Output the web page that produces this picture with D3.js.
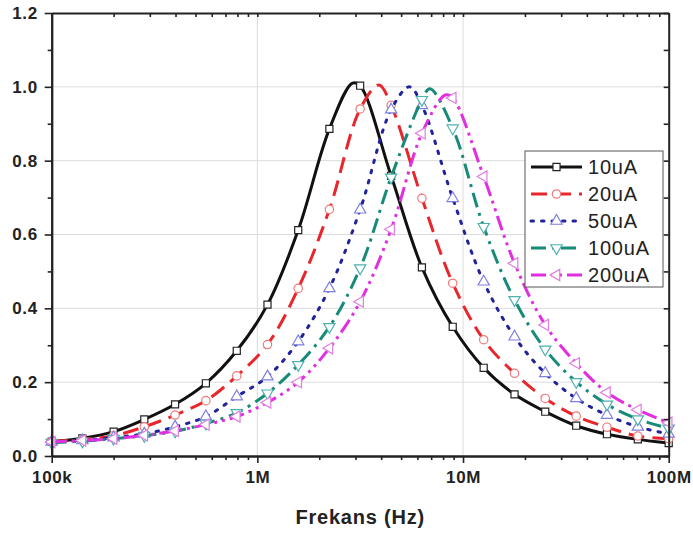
<!DOCTYPE html>
<html>
<head>
<meta charset="utf-8">
<script src="https://cdn.jsdelivr.net/npm/d3@7"></script>
<style>
  body { margin: 0; background: #fff; }
  text { font-family: "Liberation Sans", Arial, sans-serif; }
</style>
</head>
<body>
<svg width="693" height="533"></svg>
<script>
// frequencies where the markers sit (Hz)
const freqs = [1e5, 1.41e5, 2e5, 2.82e5, 3.98e5, 5.62e5, 7.94e5, 1.12e6, 1.58e6, 2.24e6,
  3.16e6, 4.47e6, 6.31e6, 8.91e6, 1.26e7, 1.78e7, 2.51e7, 3.55e7, 5.01e7, 7.08e7, 1e8];

// values
const s10 = [0.039, 0.048, 0.066, 0.099, 0.140, 0.197, 0.285, 0.410, 0.612, 0.886, 1.003,
  0.759, 0.511, 0.350, 0.239, 0.167, 0.120, 0.082, 0.059, 0.045, 0.035];
const s20 = [0.040, 0.045, 0.055, 0.079, 0.111, 0.150, 0.217, 0.302, 0.454, 0.668, 0.940,
  0.950, 0.698, 0.468, 0.315, 0.224, 0.156, 0.108, 0.078, 0.054, 0.047];
const s50 = [0.038, 0.042, 0.050, 0.060, 0.079, 0.107, 0.161, 0.215, 0.310, 0.454, 0.667,
  0.938, 0.950, 0.698, 0.472, 0.323, 0.224, 0.156, 0.111, 0.079, 0.060];
const s100 = [0.036, 0.040, 0.047, 0.055, 0.067, 0.088, 0.117, 0.170, 0.247, 0.350, 0.509,
  0.755, 0.965, 0.888, 0.621, 0.423, 0.289, 0.201, 0.140, 0.100, 0.075];
const s200 = [0.038, 0.042, 0.047, 0.056, 0.068, 0.085, 0.107, 0.145, 0.200, 0.292, 0.418,
  0.614, 0.874, 0.970, 0.757, 0.522, 0.355, 0.251, 0.172, 0.125, 0.090];

// peak of each curve (between markers)
const peakFreqs = [2.9e6, 3.9e6, 5.5e6, 6.9e6, 8.2e6];
const peakVals = [1.01, 1.005, 1.0, 0.995, 0.978];

const names = ["10uA", "20uA", "50uA", "100uA", "200uA"];
const xTicks = [1e5, 1e6, 1e7, 1e8];
const xTickLabels = ["100k", "1M", "10M", "100M"];
const yTicks = [0, 0.2, 0.4, 0.6, 0.8, 1.0, 1.2];

const series = [s10, s20, s50, s100, s200];
const styles = [
  { line: "#111", dash: null, marker: "square", mstroke: "#222" },
  { line: "#e8262b", dash: "16,8", marker: "circle", mstroke: "#ef7a7a" },
  { line: "#22229a", dash: "2.5,8", marker: "up", mstroke: "#7f7fe0", cap: "round" },
  { line: "#178a78", dash: "15,6,3,6", marker: "down", mstroke: "#4fb0b0" },
  { line: "#e02ee0", dash: "15,5,3,5,3,5", marker: "left", mstroke: "#e07ee0" }
];

const svg = d3.select("svg");
const L = 51.7, R = 668.7, T = 13, B = 456;

const x = d3.scaleLog().domain([1e5, 1e8]).range([L, R]);
const y = d3.scaleLinear().domain([0, 1.2]).range([B, T]);

// minor ticks
const xMinor = [];
for (let d = 1e5; d < 1e8; d *= 10) for (let m = 2; m <= 9; m++) xMinor.push(d * m);
const yMinor = [0.1, 0.3, 0.5, 0.7, 0.9, 1.1];

// gridlines
svg.append("g")
  .selectAll("line")
  .data(yTicks.slice(1, -1))
  .join("line")
  .attr("x1", L).attr("x2", R)
  .attr("y1", d => y(d)).attr("y2", d => y(d))
  .attr("stroke", "#dcdcdc").attr("stroke-width", 1);
svg.append("g")
  .selectAll("line")
  .data(xTicks.slice(1, -1))
  .join("line")
  .attr("y1", T).attr("y2", B)
  .attr("x1", d => x(d)).attr("x2", d => x(d))
  .attr("stroke", "#dcdcdc").attr("stroke-width", 1);

// curves
const line = d3.line()
  .x(d => x(d[0]))
  .y(d => y(d[1]))
  .curve(d3.curveCatmullRom.alpha(0.5));

const symbolPath = {
  square: d3.symbol().type(d3.symbolSquare).size(50)(),
  circle: d3.symbol().type(d3.symbolCircle).size(55)(),
  up: d3.symbol().type(d3.symbolTriangle).size(55)()
};

function drawMarker(g, kind, cx, cy, stroke) {
  let rot = 0, p = symbolPath[kind] || symbolPath.up;
  if (kind === "down") rot = 180;
  if (kind === "left") rot = -90;
  g.append("path")
    .attr("d", p)
    .attr("transform", `translate(${cx},${cy}) rotate(${rot})`)
    .attr("fill", "#fff")
    .attr("stroke", stroke)
    .attr("stroke-width", 1.2);
}

series.forEach((vals, i) => {
  const st = styles[i];
  const pts = freqs.map((f, k) => [f, vals[k]]);
  const withPeak = pts.concat([[peakFreqs[i], peakVals[i]]]).sort((a, b) => a[0] - b[0]);
  const g = svg.append("g");
  g.append("path")
    .attr("d", line(withPeak))
    .attr("fill", "none")
    .attr("stroke", st.line)
    .attr("stroke-width", 3)
    .attr("stroke-linecap", st.cap || "butt")
    .attr("stroke-dasharray", st.dash);
  pts.forEach(p => drawMarker(g, st.marker, x(p[0]), y(p[1]), st.mstroke));
});

// axes
svg.append("g").attr("transform", `translate(0,${B})`)
  .call(d3.axisBottom(x).tickValues(xTicks).tickSize(7).tickPadding(8)
    .tickFormat((d, i) => xTickLabels[i]).tickSizeOuter(0));
svg.append("g").attr("transform", `translate(0,${B})`)
  .call(d3.axisBottom(x).tickValues(xMinor).tickSize(4).tickFormat("").tickSizeOuter(0));
svg.append("g").attr("transform", `translate(0,${T})`)
  .call(d3.axisTop(x).tickValues(xTicks.concat(xMinor)).tickSize(-4).tickFormat("").tickSizeOuter(0));

svg.append("g").attr("transform", `translate(${L},0)`)
  .call(d3.axisLeft(y).tickValues(yTicks).tickSize(7).tickPadding(7)
    .tickFormat(d3.format(".1f")).tickSizeOuter(0));
svg.append("g").attr("transform", `translate(${L},0)`)
  .call(d3.axisLeft(y).tickValues(yMinor).tickSize(4).tickFormat("").tickSizeOuter(0));
svg.append("g").attr("transform", `translate(${R},0)`)
  .call(d3.axisRight(y).tickValues(yTicks.concat(yMinor)).tickSize(-5).tickFormat("").tickSizeOuter(0));

svg.selectAll(".domain").attr("stroke", "#222").attr("stroke-width", 2);
svg.selectAll(".tick line").attr("stroke", "#222").attr("stroke-width", 1.6);
svg.selectAll(".tick text")
  .attr("font-family", "'Liberation Sans', Arial, sans-serif")
  .attr("font-weight", "bold")
  .attr("font-size", 17)
  .attr("letter-spacing", 0.6)
  .attr("fill", "#222");

// x axis title
svg.append("text")
  .attr("x", (L + R) / 2)
  .attr("y", 524)
  .attr("text-anchor", "middle")
  .attr("font-size", 20)
  .attr("font-weight", "bold")
  .attr("letter-spacing", 0.8)
  .attr("fill", "#222")
  .text("Frekans (Hz)");

// legend
const lg = svg.append("g");
lg.append("rect")
  .attr("x", 525).attr("y", 151)
  .attr("width", 138).attr("height", 136)
  .attr("fill", "#fff")
  .attr("stroke", "#555").attr("stroke-width", 1);

names.forEach((n, i) => {
  const st = styles[i];
  const cy = 167 + i * 27;
  lg.append("line")
    .attr("x1", 531).attr("x2", 582)
    .attr("y1", cy).attr("y2", cy)
    .attr("stroke", st.line)
    .attr("stroke-width", 3)
    .attr("stroke-linecap", st.cap || "butt")
    .attr("stroke-dasharray", st.dash);
  drawMarker(lg, st.marker, 556.5, cy, st.mstroke);
  lg.append("text")
    .attr("x", 588).attr("y", cy + 7)
    .attr("font-size", 20)
    .attr("letter-spacing", 0.8)
    .attr("fill", "#222")
    .text(n);
});
</script>
</body>
</html>
